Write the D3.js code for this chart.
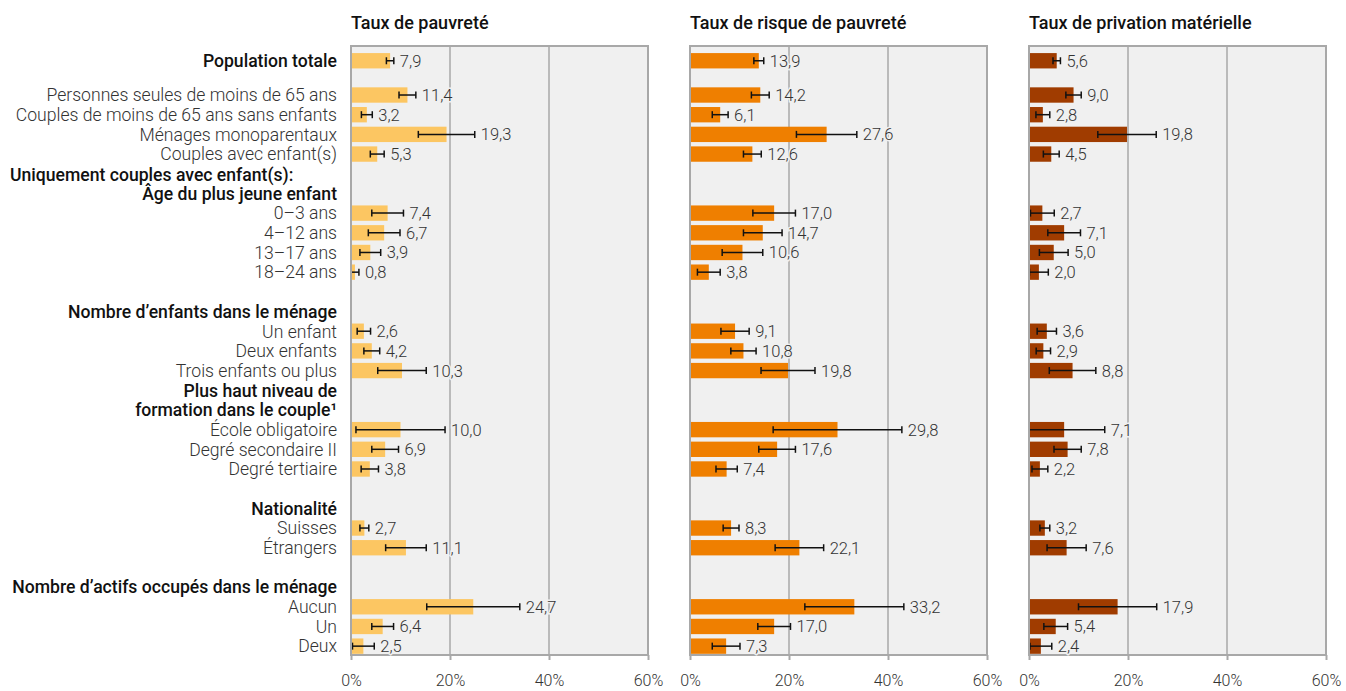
<!DOCTYPE html>
<html><head><meta charset="utf-8">
<script src="https://cdn.jsdelivr.net/npm/d3@7"></script>
<style>
body{margin:0;background:#fff;}
text{font-family:Roboto,"Noto Sans",sans-serif;}
</style></head>
<body><svg id="chart" width="1346" height="691"></svg>
<script>
// ---- data ----
const categories = [
  "Population totale",
  "Personnes seules de moins de 65 ans",
  "Couples de moins de 65 ans sans enfants",
  "Ménages monoparentaux",
  "Couples avec enfant(s)",
  "0–3 ans", "4–12 ans", "13–17 ans", "18–24 ans",
  "Un enfant", "Deux enfants", "Trois enfants ou plus",
  "École obligatoire", "Degré secondaire II", "Degré tertiaire",
  "Suisses", "Étrangers",
  "Aucun", "Un", "Deux"
];
const headerLines = [
  "Uniquement couples avec enfant(s):",
  "Âge du plus jeune enfant",
  "Nombre d’enfants dans le ménage",
  "Plus haut niveau de",
  "formation dans le couple¹",
  "Nationalité",
  "Nombre d’actifs occupés dans le ménage"
];
// order of rows: c = category index, h = header line index, gap/blank = spacers
const rowOrder = ["c0","gap","c1","c2","c3","c4","h0","h1","c5","c6","c7","c8","blank","h2",
  "c9","c10","c11","h3","h4","c12","c13","c14","blank","h5","c15","c16","blank","h6","c17","c18","c19"];

const panelTitles = ["Taux de pauvreté", "Taux de risque de pauvreté", "Taux de privation matérielle"];
const pauvrete     = [7.9,11.4,3.2,19.3,5.3,7.4,6.7,3.9,0.8,2.6,4.2,10.3,10.0,6.9,3.8,2.7,11.1,24.7,6.4,2.5];
const pauvreteErr  = [0.75,1.7,1.1,5.7,1.4,3.2,3.2,2.1,0.8,1.35,1.6,4.9,9.0,2.7,1.75,0.9,4.1,9.4,2.2,2.2];
const risque       = [13.9,14.2,6.1,27.6,12.6,17.0,14.7,10.6,3.8,9.1,10.8,19.8,29.8,17.6,7.4,8.3,22.1,33.2,17.0,7.3];
const risqueErr    = [1.0,1.8,1.6,6.1,1.8,4.3,3.9,4.1,2.3,2.85,2.55,5.45,13.0,3.7,2.15,1.6,4.9,10.0,3.3,2.8];
const privation    = [5.6,9.0,2.8,19.8,4.5,2.7,7.1,5.0,2.0,3.6,2.9,8.8,7.1,7.8,2.2,3.2,7.6,17.9,5.4,2.4];
const privationErr = [0.75,1.55,1.4,5.9,1.6,2.4,3.3,2.9,1.9,1.95,1.45,4.7,8.2,2.75,1.6,1.0,3.95,7.9,2.4,2.2];
const xTicks = [0, 20, 40, 60];

const series = [
  {title: panelTitles[0], values: pauvrete, err: pauvreteErr, color: "#FCC662"},
  {title: panelTitles[1], values: risque, err: risqueErr, color: "#EF7F00"},
  {title: panelTitles[2], values: privation, err: privationErr, color: "#A03C00"}
];

// ---- layout ----
const svg = d3.select("#chart");
const plotTop = 46, plotBottom = 655;
const firstLeft = 351, panelW = 297, panelGap = 42;
const labelRight = 337;
const labelSize = 17.6;

// slot positions
let acc = 0;
const rows = rowOrder.map(r => {
  const p = acc;
  acc += (r === "gap") ? 0.74 : 1;
  return {key: r, pos: p};
});
const y = d3.scaleLinear().domain([-0.75, rows[rows.length-1].pos + 0.45]).range([plotTop, plotBottom]);
const barH = (y(1) - y(0)) * 0.78;

const catPos = {};
rows.forEach(r => { if (r.key[0] === "c") catPos[+r.key.slice(1)] = r.pos; });

// row labels
const labG = svg.append("g");
rows.forEach(r => {
  if (r.key[0] === "c") {
    const i = +r.key.slice(1);
    labG.append("text")
      .attr("x", labelRight).attr("y", y(r.pos)).attr("dy", "0.36em")
      .attr("text-anchor", "end")
      .attr("font-size", labelSize)
      .attr("font-weight", i === 0 ? 500 : 300)
      .attr("fill", i === 0 ? "#111" : "#333")
      .text(categories[i]);
  } else if (r.key[0] === "h") {
    const i = +r.key.slice(1);
    const first = (i === 0);
    labG.append("text")
      .attr("x", first ? 10 : labelRight)
      .attr("y", y(r.pos) + (first ? 1 : 0)).attr("dy", "0.36em")
      .attr("text-anchor", first ? "start" : "end")
      .attr("font-size", labelSize)
      .attr("font-weight", 500)
      .attr("fill", "#111")
      .text(headerLines[i]);
  }
});

series.forEach((s, k) => {
  const left = firstLeft + k * (panelW + panelGap);
  const x = d3.scaleLinear().domain([0, 60]).range([left, left + panelW]);
  const g = svg.append("g");

  // title
  g.append("text").attr("x", left).attr("y", 28.5)
    .attr("font-size", 18).attr("font-weight", 500).attr("fill", "#111")
    .text(s.title);

  // background
  g.append("rect").attr("x", x(0)).attr("y", plotTop)
    .attr("width", x(60) - x(0)).attr("height", plotBottom - plotTop)
    .attr("fill", "#F0F0F0");

  // grid
  g.selectAll(".grid").data(xTicks.slice(1, -1)).join("line")
    .attr("x1", d => x(d)).attr("x2", d => x(d))
    .attr("y1", plotTop).attr("y2", plotBottom)
    .attr("stroke", "#A8A8A8").attr("stroke-width", 1.5);

  // bars
  g.selectAll(".bar").data(s.values).join("rect")
    .attr("x", x(0))
    .attr("y", (d, i) => y(catPos[i]) - barH / 2)
    .attr("width", d => x(d) - x(0))
    .attr("height", barH)
    .attr("fill", s.color);

  // error bars
  const capH = 7;
  s.values.forEach((v, i) => {
    const e = s.err[i];
    const lo = v - e, hi = v + e;
    const cy = y(catPos[i]);
    g.append("line").attr("x1", x(Math.max(0, lo))).attr("x2", x(hi))
      .attr("y1", cy).attr("y2", cy).attr("stroke", "#111").attr("stroke-width", 1.5);
    if (lo >= 0) g.append("line").attr("x1", x(lo)).attr("x2", x(lo))
      .attr("y1", cy - capH/2).attr("y2", cy + capH/2).attr("stroke", "#111").attr("stroke-width", 1.5);
    g.append("line").attr("x1", x(hi)).attr("x2", x(hi))
      .attr("y1", cy - capH/2).attr("y2", cy + capH/2).attr("stroke", "#111").attr("stroke-width", 1.5);
  });

  // frame
  g.append("rect").attr("x", x(0)).attr("y", plotTop)
    .attr("width", x(60) - x(0)).attr("height", plotBottom - plotTop)
    .attr("fill", "none").attr("stroke", "#A8A8A8").attr("stroke-width", 2);

  // value labels
  const fmt = d => d3.format(".1f")(d).replace(".", ",");
  g.selectAll(".val").data(s.values).join("text")
    .attr("x", (d, i) => x(Math.max(d, d + s.err[i])) + 6)
    .attr("y", (d, i) => y(catPos[i])).attr("dy", "0.36em")
    .attr("font-size", 16.5).attr("font-weight", 300).attr("fill", "#333")
    .attr("stroke", "#F0F0F0").attr("stroke-width", 3).attr("paint-order", "stroke")
    .text(fmt);

  // x axis
  const axis = d3.axisBottom(x).tickValues(xTicks).tickSize(5).tickFormat(d => d + "%");
  const ag = g.append("g").attr("transform", `translate(0,${plotBottom})`).call(axis);
  ag.select(".domain").remove();
  ag.selectAll(".tick line").attr("stroke", "#A8A8A8").attr("stroke-width", 2);
  ag.selectAll(".tick text").attr("y", 20).attr("font-size", 16).attr("font-weight", 300)
    .attr("fill", "#333").attr("font-family", "Roboto");
});
</script></body></html>
